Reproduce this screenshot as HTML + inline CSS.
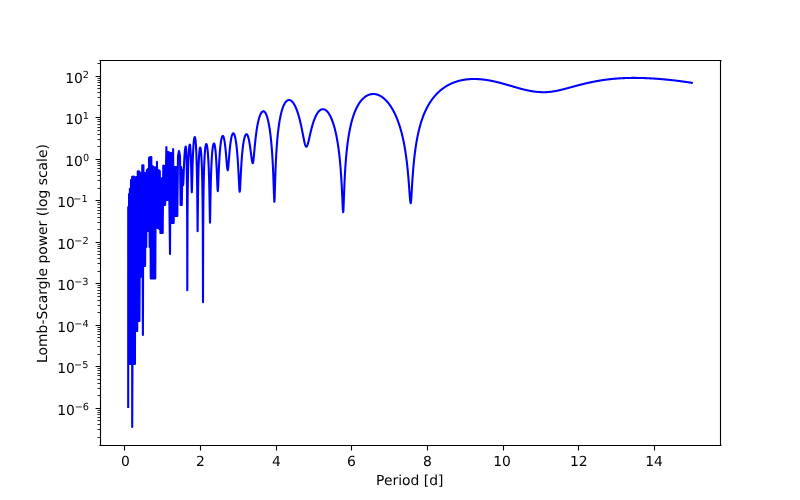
<!DOCTYPE html>
<html><head><meta charset="utf-8"><title>Lomb-Scargle periodogram</title>
<style>html,body{margin:0;padding:0;background:#fff;overflow:hidden}svg{display:block;text-rendering:geometricPrecision;will-change:transform}</style>
</head><body>
<svg width="800" height="500" viewBox="0 0 800 500">
<rect width="800" height="500" fill="#fff"/>
<path d="M128.18 407.00 L128.22 207.00 L128.48 362.00 L129.05 194.00 L129.31 364.00 L129.87 188.82 L130.44 364.00 L131.00 180.13 L131.57 364.00 L132.13 176.90 L132.20 427.00 L133.26 176.44 L133.82 364.00 L134.39 176.73 L134.95 364.00 L135.52 177.48 L136.08 331.00 L136.64 177.16 L137.21 331.00 L137.77 171.31 L138.34 321.00 L138.90 171.20 L139.47 321.00 L140.03 172.58 L140.59 277.00 L141.16 173.00 L141.72 266.00 L142.29 165.20 L142.90 335.00 L143.42 165.20 L143.98 266.00 L144.54 173.00 L145.11 266.00 L145.67 173.00 L146.24 247.00 L146.80 170.00 L147.36 231.00 L147.93 168.94 L148.49 231.00 L149.06 157.68 L149.62 247.00 L150.19 157.00 L150.75 278.50 L151.31 157.00 L151.88 278.50 L152.44 166.22 L153.01 278.50 L153.57 166.79 L154.14 278.50 L154.70 167.47 L155.26 278.50 L155.83 167.61 L156.39 221.00 L156.96 161.80 L157.52 228.00 L158.60 170.00 L159.20 229.00 L159.80 171.00 L160.40 233.00 L161.00 180.50 L161.50 233.00 L162.10 178.00 L162.70 233.00 L163.30 165.60 L163.90 205.00 L164.50 166.00 L165.10 205.00 L165.70 180.00 L166.40 147.00 L167.00 200.00 L167.60 152.00 L168.20 200.00 L168.80 152.00 L169.40 205.00 L170.00 254.00 L170.60 153.00 L171.20 223.00 L171.80 153.00 L172.40 223.00 L173.10 149.00 L173.70 223.00 L174.30 167.00 L174.90 216.00 L175.50 167.00 L176.10 216.00 L176.70 167.00 L177.30 216.00 L178.00 156.00 L179.00 151.00 L180.00 156.00 L180.60 205.00 L181.20 167.00 L181.80 205.00 L182.40 170.00 L183.10 185.20 L183.30 183.31 L183.50 178.71 L183.70 173.21 L183.90 167.88 L184.10 163.15 L184.30 159.10 L184.50 155.72 L184.70 152.95 L184.90 150.73 L185.10 149.01 L185.30 147.76 L185.50 146.95 L185.70 146.55 L185.80 146.50 L186.00 147.33 L186.20 149.88 L186.40 154.38 L186.60 161.36 L186.80 171.99 L187.00 189.44 L187.20 228.13 L187.30 290.20 L187.50 217.75 L187.70 193.43 L187.90 179.48 L188.10 169.94 L188.30 162.92 L188.50 157.58 L188.70 153.45 L188.90 150.28 L189.10 147.90 L189.30 146.20 L189.50 145.10 L189.70 144.57 L189.80 144.50 L190.00 144.94 L190.20 146.26 L190.40 148.50 L190.60 151.75 L190.80 156.13 L191.00 161.85 L191.20 169.13 L191.40 178.04 L191.60 187.42 L191.80 192.20 L192.00 188.30 L192.20 180.17 L192.40 171.92 L192.60 164.77 L192.80 158.83 L193.00 153.92 L193.20 149.87 L193.40 146.53 L193.60 143.81 L193.80 141.62 L194.00 139.90 L194.20 138.60 L194.40 137.70 L194.60 137.17 L194.80 137.00 L195.00 137.24 L195.20 137.97 L195.40 139.20 L195.60 140.96 L195.80 143.28 L196.00 146.25 L196.20 149.95 L196.40 154.55 L196.60 160.30 L196.80 167.60 L197.00 177.17 L197.20 190.47 L197.40 210.47 L197.60 231.20 L197.80 214.01 L198.00 195.50 L198.20 182.85 L198.40 173.74 L198.60 166.87 L198.80 161.55 L199.00 157.38 L199.20 154.13 L199.40 151.62 L199.60 149.77 L199.80 148.49 L200.00 147.74 L200.20 147.50 L200.40 147.74 L200.60 148.47 L200.80 149.71 L201.00 151.46 L201.20 153.80 L201.40 156.78 L201.60 160.51 L201.80 165.16 L202.00 170.99 L202.20 178.46 L202.40 188.40 L202.60 202.70 L202.80 227.35 L203.00 302.20 L203.00 302.20 L203.20 227.16 L203.40 202.65 L203.60 188.46 L203.80 178.60 L204.00 171.17 L204.20 165.33 L204.40 160.62 L204.60 156.77 L204.80 153.60 L205.00 151.00 L205.20 148.89 L205.40 147.21 L205.60 145.91 L205.80 144.96 L206.00 144.34 L206.20 144.04 L206.30 144.00 L206.50 144.14 L206.70 144.56 L206.90 145.26 L207.10 146.24 L207.30 147.53 L207.50 149.13 L207.70 151.08 L207.90 153.39 L208.10 156.13 L208.30 159.34 L208.50 163.12 L208.70 167.57 L208.90 172.87 L209.10 179.25 L209.30 187.07 L209.50 196.83 L209.70 208.84 L209.90 220.52 L210.00 222.70 L210.20 214.95 L210.40 202.17 L210.60 191.32 L210.80 182.71 L211.00 175.80 L211.20 170.13 L211.40 165.41 L211.60 161.42 L211.80 158.04 L212.00 155.15 L212.20 152.69 L212.40 150.59 L212.60 148.82 L212.80 147.34 L213.00 146.12 L213.20 145.16 L213.40 144.42 L213.60 143.91 L213.80 143.60 L214.00 143.50 L214.20 143.62 L214.40 143.99 L214.60 144.61 L214.80 145.49 L215.00 146.62 L215.20 148.02 L215.40 149.70 L215.60 151.68 L215.80 153.99 L216.00 156.65 L216.20 159.69 L216.40 163.15 L216.60 167.06 L216.80 171.43 L217.00 176.21 L217.20 181.24 L217.40 186.06 L217.60 189.77 L217.80 191.20 L217.80 191.20 L218.00 189.67 L218.20 185.76 L218.40 180.77 L218.60 175.62 L218.80 170.76 L219.00 166.32 L219.20 162.33 L219.40 158.77 L219.60 155.60 L219.80 152.78 L220.00 150.27 L220.20 148.03 L220.40 146.05 L220.60 144.29 L220.80 142.73 L221.00 141.37 L221.20 140.18 L221.40 139.16 L221.60 138.30 L221.80 137.58 L222.00 137.00 L222.20 136.56 L222.40 136.25 L222.60 136.06 L222.80 136.00 L223.00 136.07 L223.20 136.28 L223.40 136.62 L223.60 137.10 L223.80 137.72 L224.00 138.47 L224.20 139.37 L224.40 140.41 L224.60 141.60 L224.80 142.93 L225.00 144.42 L225.20 146.06 L225.40 147.85 L225.60 149.80 L225.80 151.90 L226.00 154.14 L226.20 156.49 L226.40 158.94 L226.60 161.41 L226.80 163.82 L227.00 166.06 L227.20 167.96 L227.40 169.36 L227.60 170.10 L227.70 170.20 L227.90 169.78 L228.10 168.59 L228.30 166.80 L228.50 164.59 L228.70 162.16 L228.90 159.64 L229.10 157.14 L229.30 154.71 L229.50 152.40 L229.70 150.23 L229.90 148.21 L230.10 146.34 L230.30 144.62 L230.50 143.04 L230.70 141.60 L230.90 140.29 L231.10 139.11 L231.30 138.05 L231.50 137.11 L231.70 136.29 L231.90 135.57 L232.10 134.95 L232.30 134.44 L232.50 134.03 L232.70 133.71 L232.90 133.48 L233.10 133.34 L233.30 133.30 L233.30 133.30 L233.50 133.35 L233.70 133.49 L233.90 133.72 L234.10 134.04 L234.30 134.46 L234.50 134.97 L234.70 135.58 L234.90 136.28 L235.10 137.09 L235.30 137.99 L235.50 139.01 L235.70 140.13 L235.90 141.37 L236.10 142.74 L236.30 144.23 L236.50 145.86 L236.70 147.64 L236.90 149.58 L237.10 151.69 L237.30 153.98 L237.50 156.48 L237.70 159.20 L237.90 162.15 L238.10 165.36 L238.30 168.84 L238.50 172.58 L238.70 176.55 L238.90 180.65 L239.10 184.68 L239.30 188.24 L239.50 190.77 L239.70 191.70 L239.90 190.73 L240.10 188.10 L240.30 184.47 L240.50 180.43 L240.70 176.35 L240.90 172.44 L241.10 168.78 L241.30 165.40 L241.50 162.30 L241.70 159.45 L241.90 156.85 L242.10 154.46 L242.30 152.28 L242.50 150.28 L242.70 148.45 L242.90 146.77 L243.10 145.23 L243.30 143.83 L243.50 142.54 L243.70 141.37 L243.90 140.31 L244.10 139.35 L244.30 138.48 L244.50 137.70 L244.70 137.01 L244.90 136.40 L245.10 135.87 L245.30 135.42 L245.50 135.04 L245.70 134.74 L245.90 134.50 L246.10 134.33 L246.30 134.23 L246.50 134.20 L246.50 134.20 L246.70 134.24 L246.90 134.36 L247.10 134.55 L247.30 134.83 L247.50 135.18 L247.70 135.61 L247.90 136.12 L248.10 136.70 L248.30 137.36 L248.50 138.10 L248.70 138.92 L248.90 139.82 L249.10 140.80 L249.30 141.85 L249.50 142.99 L249.70 144.20 L249.90 145.48 L250.10 146.83 L250.30 148.25 L250.50 149.73 L250.70 151.26 L250.90 152.82 L251.10 154.39 L251.30 155.94 L251.50 157.46 L251.70 158.89 L251.90 160.19 L252.10 161.31 L252.30 162.21 L252.50 162.84 L252.70 163.16 L252.80 163.20 L253.00 162.90 L253.20 162.02 L253.40 160.66 L253.60 158.93 L253.80 156.94 L254.00 154.80 L254.20 152.58 L254.40 150.35 L254.60 148.15 L254.80 146.01 L255.00 143.94 L255.20 141.95 L255.40 140.05 L255.60 138.24 L255.80 136.51 L256.00 134.87 L256.20 133.32 L256.40 131.84 L256.60 130.45 L256.80 129.12 L257.00 127.86 L257.20 126.67 L257.40 125.54 L257.60 124.48 L257.80 123.46 L258.00 122.51 L258.20 121.60 L258.40 120.75 L258.60 119.94 L258.80 119.18 L259.00 118.46 L259.20 117.78 L259.40 117.14 L259.60 116.55 L259.80 115.99 L260.00 115.46 L260.20 114.98 L260.40 114.52 L260.60 114.10 L260.80 113.72 L261.00 113.36 L261.20 113.03 L261.40 112.74 L261.60 112.47 L261.80 112.23 L262.00 112.02 L262.20 111.84 L262.40 111.69 L262.60 111.56 L262.80 111.45 L263.00 111.38 L263.20 111.33 L263.40 111.30 L263.50 111.30 L263.70 111.32 L263.90 111.37 L264.10 111.45 L264.30 111.57 L264.50 111.73 L264.70 111.92 L264.90 112.14 L265.10 112.39 L265.30 112.68 L265.50 113.01 L265.70 113.37 L265.90 113.76 L266.10 114.19 L266.30 114.66 L266.50 115.16 L266.70 115.70 L266.90 116.28 L267.10 116.90 L267.30 117.57 L267.50 118.27 L267.70 119.01 L267.90 119.80 L268.10 120.64 L268.30 121.52 L268.50 122.46 L268.70 123.45 L268.90 124.49 L269.10 125.59 L269.30 126.75 L269.50 127.98 L269.70 129.27 L269.90 130.64 L270.10 132.09 L270.30 133.62 L270.50 135.24 L270.70 136.96 L270.90 138.79 L271.10 140.74 L271.30 142.81 L271.50 145.03 L271.70 147.41 L271.90 149.98 L272.10 152.74 L272.30 155.74 L272.50 159.00 L272.70 162.56 L272.90 166.48 L273.10 170.80 L273.30 175.58 L273.50 180.84 L273.70 186.54 L273.90 192.43 L274.10 197.80 L274.30 201.22 L274.40 201.70 L274.60 199.08 L274.80 192.97 L275.00 185.94 L275.20 179.25 L275.40 173.24 L275.60 167.91 L275.80 163.18 L276.00 158.96 L276.20 155.17 L276.40 151.73 L276.60 148.60 L276.80 145.73 L277.00 143.09 L277.20 140.65 L277.40 138.37 L277.60 136.25 L277.80 134.27 L278.00 132.41 L278.20 130.66 L278.40 129.01 L278.60 127.46 L278.80 125.99 L279.00 124.59 L279.20 123.27 L279.40 122.01 L279.60 120.82 L279.80 119.68 L280.00 118.59 L280.20 117.56 L280.40 116.58 L280.60 115.64 L280.80 114.74 L281.00 113.88 L281.20 113.06 L281.40 112.28 L281.60 111.53 L281.80 110.82 L282.00 110.13 L282.20 109.48 L282.40 108.86 L282.60 108.26 L282.80 107.69 L283.00 107.15 L283.20 106.63 L283.40 106.14 L283.60 105.67 L283.80 105.22 L284.00 104.80 L284.20 104.39 L284.40 104.01 L284.60 103.65 L284.80 103.31 L285.00 102.98 L285.20 102.68 L285.40 102.39 L285.60 102.12 L285.80 101.87 L286.00 101.64 L286.20 101.42 L286.40 101.22 L286.60 101.03 L286.80 100.87 L287.00 100.71 L287.20 100.57 L287.40 100.45 L287.60 100.35 L287.80 100.25 L288.00 100.18 L288.20 100.11 L288.40 100.06 L288.60 100.03 L288.80 100.01 L289.00 100.00 L289.00 100.00 L289.20 100.01 L289.40 100.03 L289.60 100.06 L289.80 100.11 L290.00 100.17 L290.20 100.24 L290.40 100.32 L290.60 100.42 L290.80 100.53 L291.00 100.66 L291.20 100.80 L291.40 100.95 L291.60 101.11 L291.80 101.29 L292.00 101.47 L292.20 101.68 L292.40 101.89 L292.60 102.12 L292.80 102.36 L293.00 102.61 L293.20 102.88 L293.40 103.16 L293.60 103.45 L293.80 103.76 L294.00 104.08 L294.20 104.41 L294.40 104.76 L294.60 105.12 L294.80 105.50 L295.00 105.88 L295.20 106.29 L295.40 106.71 L295.60 107.14 L295.80 107.58 L296.00 108.05 L296.20 108.52 L296.40 109.01 L296.60 109.52 L296.80 110.04 L297.00 110.58 L297.20 111.14 L297.40 111.71 L297.60 112.30 L297.80 112.90 L298.00 113.53 L298.20 114.16 L298.40 114.82 L298.60 115.50 L298.80 116.19 L299.00 116.90 L299.20 117.63 L299.40 118.38 L299.60 119.15 L299.80 119.94 L300.00 120.74 L300.20 121.57 L300.40 122.41 L300.60 123.28 L300.80 124.16 L301.00 125.07 L301.20 125.99 L301.40 126.93 L301.60 127.89 L301.80 128.86 L302.00 129.85 L302.20 130.85 L302.40 131.87 L302.60 132.89 L302.80 133.93 L303.00 134.96 L303.20 136.00 L303.40 137.03 L303.60 138.06 L303.80 139.06 L304.00 140.04 L304.20 141.00 L304.40 141.91 L304.60 142.77 L304.80 143.57 L305.00 144.30 L305.20 144.95 L305.40 145.51 L305.60 145.97 L305.80 146.33 L306.00 146.56 L306.20 146.68 L306.30 146.70 L306.50 146.65 L306.70 146.49 L306.90 146.23 L307.10 145.88 L307.30 145.43 L307.50 144.91 L307.70 144.31 L307.90 143.65 L308.10 142.94 L308.30 142.18 L308.50 141.38 L308.70 140.55 L308.90 139.70 L309.10 138.83 L309.30 137.96 L309.50 137.07 L309.70 136.19 L309.90 135.31 L310.10 134.43 L310.30 133.56 L310.50 132.71 L310.70 131.86 L310.90 131.03 L311.10 130.21 L311.30 129.41 L311.50 128.63 L311.70 127.86 L311.90 127.11 L312.10 126.38 L312.30 125.67 L312.50 124.97 L312.70 124.30 L312.90 123.64 L313.10 123.00 L313.30 122.38 L313.50 121.77 L313.70 121.19 L313.90 120.62 L314.10 120.06 L314.30 119.53 L314.50 119.01 L314.70 118.51 L314.90 118.02 L315.10 117.55 L315.30 117.09 L315.50 116.65 L315.70 116.23 L315.90 115.82 L316.10 115.42 L316.30 115.04 L316.50 114.67 L316.70 114.32 L316.90 113.98 L317.10 113.65 L317.30 113.34 L317.50 113.04 L317.70 112.75 L317.90 112.48 L318.10 112.21 L318.30 111.96 L318.50 111.72 L318.70 111.50 L318.90 111.28 L319.10 111.08 L319.30 110.88 L319.50 110.70 L319.70 110.53 L319.90 110.37 L320.10 110.22 L320.30 110.08 L320.50 109.95 L320.70 109.84 L320.90 109.73 L321.10 109.63 L321.30 109.54 L321.50 109.47 L321.70 109.40 L321.90 109.34 L322.10 109.30 L322.30 109.26 L322.50 109.23 L322.70 109.21 L322.90 109.20 L323.00 109.20 L323.20 109.21 L323.40 109.22 L323.60 109.25 L323.80 109.28 L324.00 109.33 L324.20 109.39 L324.40 109.46 L324.60 109.53 L324.80 109.62 L325.00 109.72 L325.20 109.83 L325.40 109.95 L325.60 110.08 L325.80 110.21 L326.00 110.36 L326.20 110.52 L326.40 110.69 L326.60 110.87 L326.80 111.06 L327.00 111.27 L327.20 111.48 L327.40 111.70 L327.60 111.93 L327.80 112.18 L328.00 112.43 L328.20 112.70 L328.40 112.97 L328.60 113.26 L328.80 113.56 L329.00 113.87 L329.20 114.19 L329.40 114.52 L329.60 114.87 L329.80 115.23 L330.00 115.59 L330.20 115.98 L330.40 116.37 L330.60 116.78 L330.80 117.20 L331.00 117.63 L331.20 118.08 L331.40 118.54 L331.60 119.01 L331.80 119.50 L332.00 120.00 L332.20 120.52 L332.40 121.05 L332.60 121.60 L332.80 122.17 L333.00 122.75 L333.20 123.35 L333.40 123.97 L333.60 124.60 L333.80 125.25 L334.00 125.93 L334.20 126.62 L334.40 127.33 L334.60 128.07 L334.80 128.83 L335.00 129.61 L335.20 130.41 L335.40 131.24 L335.60 132.10 L335.80 132.98 L336.00 133.89 L336.20 134.83 L336.40 135.80 L336.60 136.81 L336.80 137.85 L337.00 138.93 L337.20 140.04 L337.40 141.20 L337.60 142.40 L337.80 143.64 L338.00 144.94 L338.20 146.28 L338.40 147.69 L338.60 149.15 L338.80 150.68 L339.00 152.28 L339.20 153.95 L339.40 155.71 L339.60 157.56 L339.80 159.50 L340.00 161.55 L340.20 163.73 L340.40 166.03 L340.60 168.48 L340.80 171.09 L341.00 173.89 L341.20 176.88 L341.40 180.10 L341.60 183.57 L341.80 187.30 L342.00 191.30 L342.20 195.56 L342.40 199.98 L342.60 204.36 L342.80 208.30 L343.00 211.14 L343.20 212.20 L343.40 210.51 L343.60 206.22 L343.80 200.79 L344.00 195.21 L344.20 189.92 L344.40 185.06 L344.60 180.63 L344.80 176.61 L345.00 172.93 L345.20 169.57 L345.40 166.48 L345.60 163.62 L345.80 160.97 L346.00 158.49 L346.20 156.18 L346.40 154.00 L346.60 151.96 L346.80 150.02 L347.00 148.19 L347.20 146.46 L347.40 144.81 L347.60 143.23 L347.80 141.73 L348.00 140.29 L348.20 138.92 L348.40 137.60 L348.60 136.33 L348.80 135.12 L349.00 133.94 L349.20 132.81 L349.40 131.73 L349.60 130.67 L349.80 129.66 L350.00 128.68 L350.20 127.73 L350.40 126.81 L350.60 125.91 L350.80 125.05 L351.00 124.21 L351.20 123.40 L351.40 122.61 L351.60 121.84 L351.80 121.09 L352.00 120.36 L352.20 119.66 L352.40 118.97 L352.60 118.30 L352.80 117.65 L353.00 117.01 L353.20 116.40 L353.40 115.79 L353.60 115.20 L353.80 114.63 L354.00 114.07 L354.20 113.52 L354.40 112.99 L354.60 112.47 L354.80 111.96 L355.00 111.47 L355.20 110.98 L355.40 110.51 L355.60 110.04 L355.80 109.59 L356.00 109.15 L356.20 108.72 L356.40 108.30 L356.60 107.89 L356.80 107.48 L357.00 107.09 L357.20 106.70 L357.40 106.33 L357.60 105.96 L357.80 105.60 L358.00 105.25 L358.20 104.90 L358.40 104.57 L358.60 104.24 L358.80 103.92 L359.00 103.60 L359.20 103.29 L359.40 102.99 L359.60 102.70 L359.80 102.41 L360.00 102.13 L360.20 101.86 L360.40 101.59 L360.60 101.33 L360.80 101.07 L361.00 100.82 L361.20 100.58 L361.40 100.34 L361.60 100.10 L361.80 99.88 L362.00 99.65 L362.20 99.44 L362.40 99.23 L362.60 99.02 L362.80 98.82 L363.00 98.62 L363.20 98.43 L363.40 98.24 L363.60 98.06 L363.80 97.89 L364.00 97.71 L364.20 97.55 L364.40 97.38 L364.60 97.22 L364.80 97.07 L365.00 96.92 L365.20 96.77 L365.40 96.63 L365.60 96.49 L365.80 96.36 L366.00 96.23 L366.20 96.11 L366.40 95.99 L366.60 95.87 L366.80 95.76 L367.00 95.65 L367.20 95.54 L367.40 95.44 L367.60 95.34 L367.80 95.25 L368.00 95.16 L368.20 95.07 L368.40 94.99 L368.60 94.91 L368.80 94.83 L369.00 94.76 L369.20 94.69 L369.40 94.62 L369.60 94.56 L369.80 94.50 L370.00 94.45 L370.20 94.40 L370.40 94.35 L370.60 94.30 L370.80 94.26 L371.00 94.22 L371.20 94.19 L371.40 94.15 L371.60 94.12 L371.80 94.10 L372.00 94.07 L372.20 94.05 L372.40 94.04 L372.60 94.02 L372.80 94.01 L373.00 94.01 L373.20 94.00 L373.40 94.00 L373.60 94.00 L373.80 94.01 L374.00 94.02 L374.20 94.03 L374.40 94.04 L374.60 94.06 L374.80 94.08 L375.00 94.11 L375.20 94.13 L375.40 94.17 L375.60 94.20 L375.80 94.24 L376.00 94.28 L376.20 94.32 L376.40 94.37 L376.60 94.42 L376.80 94.48 L377.00 94.53 L377.20 94.59 L377.40 94.66 L377.60 94.72 L377.80 94.79 L378.00 94.87 L378.20 94.94 L378.40 95.02 L378.60 95.10 L378.80 95.19 L379.00 95.28 L379.20 95.37 L379.40 95.47 L379.60 95.57 L379.80 95.67 L380.00 95.77 L380.20 95.88 L380.40 95.99 L380.60 96.10 L380.80 96.22 L381.00 96.34 L381.20 96.47 L381.40 96.59 L381.60 96.72 L381.80 96.86 L382.00 96.99 L382.20 97.13 L382.40 97.28 L382.60 97.42 L382.80 97.57 L383.00 97.73 L383.20 97.88 L383.40 98.04 L383.60 98.21 L383.80 98.37 L384.00 98.54 L384.20 98.72 L384.40 98.89 L384.60 99.08 L384.80 99.26 L385.00 99.45 L385.20 99.64 L385.40 99.83 L385.60 100.03 L385.80 100.23 L386.00 100.44 L386.20 100.64 L386.40 100.86 L386.60 101.07 L386.80 101.29 L387.00 101.52 L387.20 101.74 L387.40 101.97 L387.60 102.21 L387.80 102.45 L388.00 102.69 L388.20 102.94 L388.40 103.19 L388.60 103.44 L388.80 103.70 L389.00 103.96 L389.20 104.23 L389.40 104.50 L389.60 104.78 L389.80 105.06 L390.00 105.34 L390.20 105.63 L390.40 105.93 L390.60 106.22 L390.80 106.53 L391.00 106.83 L391.20 107.14 L391.40 107.46 L391.60 107.78 L391.80 108.11 L392.00 108.44 L392.20 108.78 L392.40 109.12 L392.60 109.47 L392.80 109.82 L393.00 110.18 L393.20 110.54 L393.40 110.91 L393.60 111.28 L393.80 111.66 L394.00 112.05 L394.20 112.44 L394.40 112.84 L394.60 113.25 L394.80 113.66 L395.00 114.08 L395.20 114.50 L395.40 114.93 L395.60 115.37 L395.80 115.82 L396.00 116.27 L396.20 116.73 L396.40 117.20 L396.60 117.67 L396.80 118.16 L397.00 118.65 L397.20 119.15 L397.40 119.66 L397.60 120.18 L397.80 120.70 L398.00 121.24 L398.20 121.78 L398.40 122.34 L398.60 122.90 L398.80 123.48 L399.00 124.07 L399.20 124.66 L399.40 125.27 L399.60 125.89 L399.80 126.52 L400.00 127.17 L400.20 127.83 L400.40 128.50 L400.60 129.18 L400.80 129.88 L401.00 130.59 L401.20 131.32 L401.40 132.07 L401.60 132.83 L401.80 133.61 L402.00 134.40 L402.20 135.22 L402.40 136.05 L402.60 136.91 L402.80 137.78 L403.00 138.68 L403.20 139.60 L403.40 140.55 L403.60 141.52 L403.80 142.51 L404.00 143.54 L404.20 144.59 L404.40 145.68 L404.60 146.80 L404.80 147.95 L405.00 149.14 L405.20 150.36 L405.40 151.63 L405.60 152.94 L405.80 154.30 L406.00 155.71 L406.20 157.17 L406.40 158.68 L406.60 160.26 L406.80 161.90 L407.00 163.61 L407.20 165.39 L407.40 167.25 L407.60 169.19 L407.80 171.22 L408.00 173.34 L408.20 175.57 L408.40 177.89 L408.60 180.32 L408.80 182.86 L409.00 185.48 L409.20 188.18 L409.40 190.92 L409.60 193.66 L409.80 196.30 L410.00 198.72 L410.20 200.78 L410.40 202.29 L410.60 203.10 L410.70 203.20 L410.90 202.56 L411.10 200.78 L411.30 198.15 L411.50 195.02 L411.70 191.67 L411.90 188.28 L412.10 184.97 L412.30 181.78 L412.50 178.74 L412.70 175.87 L412.90 173.16 L413.10 170.60 L413.30 168.19 L413.50 165.90 L413.70 163.74 L413.90 161.69 L414.10 159.74 L414.30 157.88 L414.50 156.11 L414.70 154.42 L414.90 152.81 L415.10 151.26 L415.30 149.78 L415.50 148.35 L415.70 146.98 L415.90 145.66 L416.10 144.39 L416.30 143.16 L416.50 141.98 L416.70 140.83 L416.90 139.72 L417.10 138.65 L417.30 137.60 L417.50 136.59 L417.70 135.61 L417.90 134.66 L418.10 133.73 L418.30 132.83 L418.50 131.95 L418.70 131.09 L418.90 130.26 L419.10 129.45 L419.30 128.65 L419.50 127.88 L419.70 127.12 L419.90 126.38 L420.10 125.66 L420.30 124.96 L420.50 124.27 L420.70 123.59 L420.90 122.93 L421.10 122.28 L421.30 121.65 L421.50 121.03 L421.70 120.42 L421.90 119.82 L422.10 119.23 L422.30 118.66 L422.50 118.10 L422.70 117.54 L422.90 117.00 L423.10 116.47 L423.30 115.94 L423.50 115.43 L423.70 114.92 L423.90 114.42 L424.10 113.94 L424.30 113.46 L424.50 112.98 L424.70 112.52 L424.90 112.06 L425.10 111.61 L425.30 111.17 L425.50 110.73 L425.70 110.30 L425.90 109.88 L426.10 109.47 L426.30 109.06 L426.50 108.65 L426.70 108.26 L426.90 107.87 L427.10 107.48 L427.30 107.10 L427.50 106.73 L427.70 106.36 L427.90 105.99 L428.10 105.63 L428.30 105.28 L428.50 104.93 L428.70 104.59 L428.90 104.25 L429.10 103.91 L429.30 103.58 L429.50 103.26 L429.70 102.93 L429.90 102.62 L430.10 102.30 L430.30 102.00 L430.50 101.69 L430.70 101.39 L430.90 101.09 L431.10 100.80 L431.30 100.51 L431.50 100.22 L431.70 99.94 L431.90 99.66 L432.10 99.39 L432.30 99.12 L432.50 98.85 L432.70 98.58 L432.90 98.32 L433.10 98.06 L433.30 97.81 L433.50 97.55 L433.70 97.30 L433.90 97.06 L434.10 96.81 L434.30 96.57 L434.50 96.33 L434.70 96.10 L434.90 95.87 L435.10 95.64 L435.30 95.41 L435.50 95.19 L435.70 94.97 L435.90 94.75 L436.10 94.53 L436.30 94.32 L436.50 94.10 L436.70 93.90 L436.90 93.69 L437.10 93.48 L437.30 93.28 L437.50 93.08 L437.70 92.88 L437.90 92.69 L438.10 92.50 L438.30 92.31 L438.50 92.12 L438.70 91.93 L438.90 91.75 L439.10 91.56 L439.30 91.38 L439.50 91.21 L439.70 91.03 L439.90 90.85 L440.10 90.68 L440.30 90.51 L440.50 90.34 L440.70 90.18 L440.90 90.01 L441.10 89.85 L441.30 89.69 L441.50 89.53 L441.70 89.37 L441.90 89.21 L442.10 89.06 L442.30 88.91 L442.50 88.76 L442.70 88.61 L442.90 88.46 L443.10 88.32 L443.30 88.17 L443.50 88.03 L443.70 87.89 L443.90 87.75 L444.10 87.61 L444.30 87.47 L444.50 87.34 L444.70 87.21 L444.90 87.08 L445.10 86.95 L445.30 86.82 L445.50 86.69 L445.70 86.56 L445.90 86.44 L446.10 86.32 L446.30 86.19 L446.50 86.07 L446.70 85.95 L446.90 85.84 L447.10 85.72 L447.30 85.61 L447.50 85.49 L447.70 85.38 L447.90 85.27 L448.10 85.16 L448.30 85.05 L448.50 84.94 L448.70 84.84 L448.90 84.73 L449.10 84.63 L449.30 84.53 L449.50 84.43 L449.70 84.33 L449.90 84.23 L450.10 84.13 L450.30 84.04 L450.50 83.94 L450.70 83.85 L450.90 83.75 L451.10 83.66 L451.30 83.57 L451.50 83.48 L451.70 83.39 L451.90 83.31 L452.10 83.22 L452.30 83.14 L452.50 83.05 L452.70 82.97 L452.90 82.89 L453.10 82.81 L453.30 82.73 L453.50 82.65 L453.70 82.57 L453.90 82.49 L454.10 82.42 L454.30 82.34 L454.50 82.27 L454.70 82.20 L454.90 82.12 L455.10 82.05 L455.30 81.98 L455.50 81.91 L455.70 81.85 L455.90 81.78 L456.10 81.71 L456.30 81.65 L456.50 81.58 L456.70 81.52 L456.90 81.46 L457.10 81.40 L457.30 81.34 L457.50 81.28 L457.70 81.22 L457.90 81.16 L458.10 81.10 L458.30 81.05 L458.50 80.99 L458.70 80.94 L458.90 80.88 L459.10 80.83 L459.30 80.78 L459.50 80.73 L459.70 80.68 L459.90 80.63 L460.10 80.58 L460.30 80.53 L460.50 80.49 L460.70 80.44 L460.90 80.40 L461.10 80.35 L461.30 80.31 L461.50 80.26 L461.70 80.22 L461.90 80.18 L462.10 80.14 L462.30 80.10 L462.50 80.06 L462.70 80.02 L462.90 79.99 L463.10 79.95 L463.30 79.91 L463.50 79.88 L463.70 79.84 L463.90 79.81 L464.10 79.78 L464.30 79.75 L464.50 79.71 L464.70 79.68 L464.90 79.65 L465.10 79.62 L465.30 79.60 L465.50 79.57 L465.70 79.54 L465.90 79.51 L466.10 79.49 L466.30 79.46 L466.50 79.44 L466.70 79.41 L466.90 79.39 L467.10 79.37 L467.30 79.35 L467.50 79.33 L467.70 79.31 L467.90 79.29 L468.10 79.27 L468.30 79.25 L468.50 79.23 L468.70 79.22 L468.90 79.20 L469.10 79.18 L469.30 79.17 L469.50 79.15 L469.70 79.14 L469.90 79.13 L470.10 79.12 L470.30 79.10 L470.50 79.09 L470.70 79.08 L470.90 79.07 L471.10 79.06 L471.30 79.06 L471.50 79.05 L471.70 79.04 L471.90 79.03 L472.10 79.03 L472.30 79.02 L472.50 79.02 L472.70 79.01 L472.90 79.01 L473.10 79.01 L473.30 79.00 L473.50 79.00 L473.70 79.00 L473.90 79.00 L474.00 79.00 L474.20 79.00 L474.40 79.00 L474.60 79.00 L474.80 79.00 L475.00 79.01 L475.20 79.01 L475.40 79.01 L475.60 79.02 L475.80 79.02 L476.00 79.03 L476.20 79.03 L476.40 79.04 L476.60 79.05 L476.80 79.05 L477.00 79.06 L477.20 79.07 L477.40 79.08 L477.60 79.09 L477.80 79.10 L478.00 79.11 L478.20 79.12 L478.40 79.13 L478.60 79.14 L478.80 79.15 L479.00 79.16 L479.20 79.18 L479.40 79.19 L479.60 79.21 L479.80 79.22 L480.00 79.24 L480.20 79.25 L480.40 79.27 L480.60 79.28 L480.80 79.30 L481.00 79.32 L481.20 79.34 L481.40 79.36 L481.60 79.37 L481.80 79.39 L482.00 79.41 L482.20 79.43 L482.40 79.46 L482.60 79.48 L482.80 79.50 L483.00 79.52 L483.20 79.54 L483.40 79.57 L483.60 79.59 L483.80 79.61 L484.00 79.64 L484.20 79.66 L484.40 79.69 L484.60 79.71 L484.80 79.74 L485.00 79.77 L485.20 79.79 L485.40 79.82 L485.60 79.85 L485.80 79.88 L486.00 79.91 L486.20 79.94 L486.40 79.97 L486.60 80.00 L486.80 80.03 L487.00 80.06 L487.20 80.09 L487.40 80.12 L487.60 80.15 L487.80 80.18 L488.00 80.22 L488.20 80.25 L488.40 80.28 L488.60 80.32 L488.80 80.35 L489.00 80.39 L489.20 80.42 L489.40 80.46 L489.60 80.49 L489.80 80.53 L490.00 80.57 L490.20 80.60 L490.40 80.64 L490.60 80.68 L490.80 80.72 L491.00 80.76 L491.20 80.80 L491.40 80.83 L491.60 80.87 L491.80 80.91 L492.00 80.95 L492.20 81.00 L492.40 81.04 L492.60 81.08 L492.80 81.12 L493.00 81.16 L493.20 81.20 L493.40 81.25 L493.60 81.29 L493.80 81.33 L494.00 81.38 L494.20 81.42 L494.40 81.46 L494.60 81.51 L494.80 81.55 L495.00 81.60 L495.20 81.64 L495.40 81.69 L495.60 81.74 L495.80 81.78 L496.00 81.83 L496.20 81.88 L496.40 81.92 L496.60 81.97 L496.80 82.02 L497.00 82.07 L497.20 82.12 L497.40 82.17 L497.60 82.21 L497.80 82.26 L498.00 82.31 L498.20 82.36 L498.40 82.41 L498.60 82.46 L498.80 82.51 L499.00 82.56 L499.20 82.62 L499.40 82.67 L499.60 82.72 L499.80 82.77 L500.00 82.82 L500.20 82.87 L500.40 82.93 L500.60 82.98 L500.80 83.03 L501.00 83.08 L501.20 83.14 L501.40 83.19 L501.60 83.25 L501.80 83.30 L502.00 83.35 L502.20 83.41 L502.40 83.46 L502.60 83.52 L502.80 83.57 L503.00 83.63 L503.20 83.68 L503.40 83.74 L503.60 83.79 L503.80 83.85 L504.00 83.90 L504.20 83.96 L504.40 84.02 L504.60 84.07 L504.80 84.13 L505.00 84.19 L505.20 84.24 L505.40 84.30 L505.60 84.36 L505.80 84.41 L506.00 84.47 L506.20 84.53 L506.40 84.59 L506.60 84.64 L506.80 84.70 L507.00 84.76 L507.20 84.82 L507.40 84.87 L507.60 84.93 L507.80 84.99 L508.00 85.05 L508.20 85.11 L508.40 85.17 L508.60 85.22 L508.80 85.28 L509.00 85.34 L509.20 85.40 L509.40 85.46 L509.60 85.52 L509.80 85.58 L510.00 85.63 L510.20 85.69 L510.40 85.75 L510.60 85.81 L510.80 85.87 L511.00 85.93 L511.20 85.99 L511.40 86.05 L511.60 86.11 L511.80 86.17 L512.00 86.22 L512.20 86.28 L512.40 86.34 L512.60 86.40 L512.80 86.46 L513.00 86.52 L513.20 86.58 L513.40 86.64 L513.60 86.69 L513.80 86.75 L514.00 86.81 L514.20 86.87 L514.40 86.93 L514.60 86.99 L514.80 87.05 L515.00 87.10 L515.20 87.16 L515.40 87.22 L515.60 87.28 L515.80 87.34 L516.00 87.39 L516.20 87.45 L516.40 87.51 L516.60 87.57 L516.80 87.62 L517.00 87.68 L517.20 87.74 L517.40 87.79 L517.60 87.85 L517.80 87.91 L518.00 87.96 L518.20 88.02 L518.40 88.08 L518.60 88.13 L518.80 88.19 L519.00 88.24 L519.20 88.30 L519.40 88.35 L519.60 88.41 L519.80 88.46 L520.00 88.52 L520.20 88.57 L520.40 88.63 L520.60 88.68 L520.80 88.73 L521.00 88.79 L521.20 88.84 L521.40 88.89 L521.60 88.94 L521.80 89.00 L522.00 89.05 L522.20 89.10 L522.40 89.15 L522.60 89.20 L522.80 89.25 L523.00 89.31 L523.20 89.36 L523.40 89.41 L523.60 89.46 L523.80 89.50 L524.00 89.55 L524.20 89.60 L524.40 89.65 L524.60 89.70 L524.80 89.75 L525.00 89.79 L525.20 89.84 L525.40 89.89 L525.60 89.94 L525.80 89.98 L526.00 90.03 L526.20 90.07 L526.40 90.12 L526.60 90.16 L526.80 90.21 L527.00 90.25 L527.20 90.29 L527.40 90.34 L527.60 90.38 L527.80 90.42 L528.00 90.46 L528.20 90.50 L528.40 90.55 L528.60 90.59 L528.80 90.63 L529.00 90.67 L529.20 90.71 L529.40 90.74 L529.60 90.78 L529.80 90.82 L530.00 90.86 L530.20 90.90 L530.40 90.93 L530.60 90.97 L530.80 91.00 L531.00 91.04 L531.20 91.07 L531.40 91.11 L531.60 91.14 L531.80 91.17 L532.00 91.21 L532.20 91.24 L532.40 91.27 L532.60 91.30 L532.80 91.33 L533.00 91.36 L533.20 91.39 L533.40 91.42 L533.60 91.45 L533.80 91.48 L534.00 91.51 L534.20 91.54 L534.40 91.56 L534.60 91.59 L534.80 91.61 L535.00 91.64 L535.20 91.66 L535.40 91.69 L535.60 91.71 L535.80 91.73 L536.00 91.76 L536.20 91.78 L536.40 91.80 L536.60 91.82 L536.80 91.84 L537.00 91.86 L537.20 91.88 L537.40 91.90 L537.60 91.92 L537.80 91.93 L538.00 91.95 L538.20 91.97 L538.40 91.98 L538.60 92.00 L538.80 92.01 L539.00 92.03 L539.20 92.04 L539.40 92.05 L539.60 92.07 L539.80 92.08 L540.00 92.09 L540.20 92.10 L540.40 92.11 L540.60 92.12 L540.80 92.13 L541.00 92.14 L541.20 92.15 L541.40 92.15 L541.60 92.16 L541.80 92.17 L542.00 92.17 L542.20 92.18 L542.40 92.18 L542.60 92.19 L542.80 92.19 L543.00 92.19 L543.20 92.20 L543.40 92.20 L543.60 92.20 L543.80 92.20 L544.00 92.20 L544.20 92.20 L544.40 92.20 L544.60 92.20 L544.80 92.19 L545.00 92.19 L545.20 92.19 L545.40 92.18 L545.60 92.18 L545.80 92.17 L546.00 92.16 L546.20 92.15 L546.40 92.14 L546.60 92.13 L546.80 92.12 L547.00 92.11 L547.20 92.10 L547.40 92.09 L547.60 92.08 L547.80 92.06 L548.00 92.05 L548.20 92.03 L548.40 92.02 L548.60 92.00 L548.80 91.98 L549.00 91.96 L549.20 91.94 L549.40 91.92 L549.60 91.90 L549.80 91.88 L550.00 91.86 L550.20 91.84 L550.40 91.82 L550.60 91.79 L550.80 91.77 L551.00 91.74 L551.20 91.72 L551.40 91.69 L551.60 91.67 L551.80 91.64 L552.00 91.61 L552.20 91.58 L552.40 91.55 L552.60 91.52 L552.80 91.49 L553.00 91.46 L553.20 91.43 L553.40 91.40 L553.60 91.37 L553.80 91.33 L554.00 91.30 L554.20 91.27 L554.40 91.23 L554.60 91.20 L554.80 91.16 L555.00 91.13 L555.20 91.09 L555.40 91.05 L555.60 91.01 L555.80 90.98 L556.00 90.94 L556.20 90.90 L556.40 90.86 L556.60 90.82 L556.80 90.78 L557.00 90.74 L557.20 90.70 L557.40 90.66 L557.60 90.61 L557.80 90.57 L558.00 90.53 L558.20 90.49 L558.40 90.44 L558.60 90.40 L558.80 90.35 L559.00 90.31 L559.20 90.26 L559.40 90.22 L559.60 90.17 L559.80 90.13 L560.00 90.08 L560.20 90.04 L560.40 89.99 L560.60 89.94 L560.80 89.89 L561.00 89.85 L561.20 89.80 L561.40 89.75 L561.60 89.70 L561.80 89.65 L562.00 89.60 L562.20 89.55 L562.40 89.50 L562.60 89.45 L562.80 89.40 L563.00 89.35 L563.20 89.30 L563.40 89.25 L563.60 89.20 L563.80 89.15 L564.00 89.10 L564.20 89.05 L564.40 89.00 L564.60 88.94 L564.80 88.89 L565.00 88.84 L565.20 88.79 L565.40 88.74 L565.60 88.68 L565.80 88.63 L566.00 88.58 L566.20 88.52 L566.40 88.47 L566.60 88.42 L566.80 88.37 L567.00 88.31 L567.20 88.26 L567.40 88.20 L567.60 88.15 L567.80 88.10 L568.00 88.04 L568.20 87.99 L568.40 87.93 L568.60 87.88 L568.80 87.83 L569.00 87.77 L569.20 87.72 L569.40 87.66 L569.60 87.61 L569.80 87.56 L570.00 87.50 L570.20 87.45 L570.40 87.39 L570.60 87.34 L570.80 87.28 L571.00 87.23 L571.20 87.17 L571.40 87.12 L571.60 87.06 L571.80 87.01 L572.00 86.96 L572.20 86.90 L572.40 86.85 L572.60 86.79 L572.80 86.74 L573.00 86.68 L573.20 86.63 L573.40 86.57 L573.60 86.52 L573.80 86.47 L574.00 86.41 L574.20 86.36 L574.40 86.30 L574.60 86.25 L574.80 86.20 L575.00 86.14 L575.20 86.09 L575.40 86.03 L575.60 85.98 L575.80 85.93 L576.00 85.87 L576.20 85.82 L576.40 85.77 L576.60 85.71 L576.80 85.66 L577.00 85.61 L577.20 85.55 L577.40 85.50 L577.60 85.45 L577.80 85.39 L578.00 85.34 L578.20 85.29 L578.40 85.24 L578.60 85.18 L578.80 85.13 L579.00 85.08 L579.20 85.03 L579.40 84.98 L579.60 84.92 L579.80 84.87 L580.00 84.82 L580.20 84.77 L580.40 84.72 L580.60 84.67 L580.80 84.62 L581.00 84.57 L581.20 84.52 L581.40 84.46 L581.60 84.41 L581.80 84.36 L582.00 84.31 L582.20 84.26 L582.40 84.21 L582.60 84.16 L582.80 84.12 L583.00 84.07 L583.20 84.02 L583.40 83.97 L583.60 83.92 L583.80 83.87 L584.00 83.82 L584.20 83.77 L584.40 83.73 L584.60 83.68 L584.80 83.63 L585.00 83.58 L585.20 83.53 L585.40 83.49 L585.60 83.44 L585.80 83.39 L586.00 83.35 L586.20 83.30 L586.40 83.25 L586.60 83.21 L586.80 83.16 L587.00 83.11 L587.20 83.07 L587.40 83.02 L587.60 82.98 L587.80 82.93 L588.00 82.89 L588.20 82.84 L588.40 82.80 L588.60 82.75 L588.80 82.71 L589.00 82.67 L589.20 82.62 L589.40 82.58 L589.60 82.53 L589.80 82.49 L590.00 82.45 L590.20 82.41 L590.40 82.36 L590.60 82.32 L590.80 82.28 L591.00 82.24 L591.20 82.19 L591.40 82.15 L591.60 82.11 L591.80 82.07 L592.00 82.03 L592.20 81.99 L592.40 81.95 L592.60 81.91 L592.80 81.87 L593.00 81.83 L593.20 81.79 L593.40 81.75 L593.60 81.71 L593.80 81.67 L594.00 81.63 L594.20 81.59 L594.40 81.55 L594.60 81.51 L594.80 81.47 L595.00 81.44 L595.20 81.40 L595.40 81.36 L595.60 81.32 L595.80 81.29 L596.00 81.25 L596.20 81.21 L596.40 81.18 L596.60 81.14 L596.80 81.10 L597.00 81.07 L597.20 81.03 L597.40 81.00 L597.60 80.96 L597.80 80.93 L598.00 80.89 L598.20 80.86 L598.40 80.82 L598.60 80.79 L598.80 80.75 L599.00 80.72 L599.20 80.69 L599.40 80.65 L599.60 80.62 L599.80 80.59 L600.00 80.55 L600.20 80.52 L600.40 80.49 L600.60 80.46 L600.80 80.42 L601.00 80.39 L601.20 80.36 L601.40 80.33 L601.60 80.30 L601.80 80.27 L602.00 80.24 L602.20 80.21 L602.40 80.18 L602.60 80.15 L602.80 80.12 L603.00 80.09 L603.20 80.06 L603.40 80.03 L603.60 80.00 L603.80 79.97 L604.00 79.94 L604.20 79.91 L604.40 79.89 L604.60 79.86 L604.80 79.83 L605.00 79.80 L605.20 79.78 L605.40 79.75 L605.60 79.72 L605.80 79.69 L606.00 79.67 L606.20 79.64 L606.40 79.62 L606.60 79.59 L606.80 79.56 L607.00 79.54 L607.20 79.51 L607.40 79.49 L607.60 79.46 L607.80 79.44 L608.00 79.41 L608.20 79.39 L608.40 79.37 L608.60 79.34 L608.80 79.32 L609.00 79.30 L609.20 79.27 L609.40 79.25 L609.60 79.23 L609.80 79.20 L610.00 79.18 L610.20 79.16 L610.40 79.14 L610.60 79.12 L610.80 79.10 L611.00 79.07 L611.20 79.05 L611.40 79.03 L611.60 79.01 L611.80 78.99 L612.00 78.97 L612.20 78.95 L612.40 78.93 L612.60 78.91 L612.80 78.89 L613.00 78.87 L613.20 78.85 L613.40 78.83 L613.60 78.82 L613.80 78.80 L614.00 78.78 L614.20 78.76 L614.40 78.74 L614.60 78.72 L614.80 78.71 L615.00 78.69 L615.20 78.67 L615.40 78.66 L615.60 78.64 L615.80 78.62 L616.00 78.61 L616.20 78.59 L616.40 78.57 L616.60 78.56 L616.80 78.54 L617.00 78.53 L617.20 78.51 L617.40 78.50 L617.60 78.48 L617.80 78.47 L618.00 78.45 L618.20 78.44 L618.40 78.43 L618.60 78.41 L618.80 78.40 L619.00 78.39 L619.20 78.37 L619.40 78.36 L619.60 78.35 L619.80 78.33 L620.00 78.32 L620.20 78.31 L620.40 78.30 L620.60 78.29 L620.80 78.27 L621.00 78.26 L621.20 78.25 L621.40 78.24 L621.60 78.23 L621.80 78.22 L622.00 78.21 L622.20 78.20 L622.40 78.19 L622.60 78.18 L622.80 78.17 L623.00 78.16 L623.20 78.15 L623.40 78.14 L623.60 78.13 L623.80 78.12 L624.00 78.11 L624.20 78.10 L624.40 78.09 L624.60 78.09 L624.80 78.08 L625.00 78.07 L625.20 78.06 L625.40 78.06 L625.60 78.05 L625.80 78.04 L626.00 78.03 L626.20 78.03 L626.40 78.02 L626.60 78.01 L626.80 78.01 L627.00 78.00 L627.20 78.00 L627.40 77.99 L627.60 77.99 L627.80 77.98 L628.00 77.98 L628.20 77.97 L628.40 77.97 L628.60 77.96 L628.80 77.96 L629.00 77.95 L629.20 77.95 L629.40 77.94 L629.60 77.94 L629.80 77.94 L630.00 77.93 L630.20 77.93 L630.40 77.93 L630.60 77.92 L630.80 77.92 L631.00 77.92 L631.20 77.92 L631.40 77.91 L631.60 77.91 L631.80 77.91 L632.00 77.91 L632.20 77.91 L632.40 77.91 L632.60 77.90 L632.80 77.90 L633.00 77.90 L633.20 77.90 L633.40 77.90 L633.60 77.90 L633.80 77.90 L634.00 77.90 L634.50 77.90 L635.00 77.90 L635.50 77.90 L636.00 77.91 L636.50 77.91 L637.00 77.92 L637.50 77.92 L638.00 77.93 L638.50 77.94 L639.00 77.94 L639.50 77.95 L640.00 77.96 L640.50 77.97 L641.00 77.99 L641.50 78.00 L642.00 78.01 L642.50 78.03 L643.00 78.04 L643.50 78.06 L644.00 78.07 L644.50 78.09 L645.00 78.11 L645.50 78.13 L646.00 78.15 L646.50 78.17 L647.00 78.19 L647.50 78.21 L648.00 78.24 L648.50 78.26 L649.00 78.28 L649.50 78.31 L650.00 78.34 L650.50 78.36 L651.00 78.39 L651.50 78.42 L652.00 78.45 L652.50 78.48 L653.00 78.51 L653.50 78.54 L654.00 78.57 L654.50 78.60 L655.00 78.64 L655.50 78.67 L656.00 78.71 L656.50 78.74 L657.00 78.78 L657.50 78.81 L658.00 78.85 L658.50 78.89 L659.00 78.93 L659.50 78.97 L660.00 79.01 L660.50 79.05 L661.00 79.09 L661.50 79.13 L662.00 79.18 L662.50 79.22 L663.00 79.26 L663.50 79.31 L664.00 79.36 L664.50 79.40 L665.00 79.45 L665.50 79.50 L666.00 79.54 L666.50 79.59 L667.00 79.64 L667.50 79.69 L668.00 79.74 L668.50 79.79 L669.00 79.85 L669.50 79.90 L670.00 79.95 L670.50 80.01 L671.00 80.06 L671.50 80.11 L672.00 80.17 L672.50 80.23 L673.00 80.28 L673.50 80.34 L674.00 80.40 L674.50 80.46 L675.00 80.52 L675.50 80.58 L676.00 80.64 L676.50 80.70 L677.00 80.76 L677.50 80.82 L678.00 80.88 L678.50 80.94 L679.00 81.01 L679.50 81.07 L680.00 81.14 L680.50 81.20 L681.00 81.27 L681.50 81.33 L682.00 81.40 L682.50 81.47 L683.00 81.53 L683.50 81.60 L684.00 81.67 L684.50 81.74 L685.00 81.81 L685.50 81.88 L686.00 81.95 L686.50 82.02 L687.00 82.09 L687.50 82.17 L688.00 82.24 L688.50 82.31 L689.00 82.39 L689.50 82.46 L690.00 82.54 L690.50 82.61 L691.00 82.69 L691.50 82.76 L692.00 82.84 L691.82 82.90" fill="none" stroke="#0000ff" stroke-width="2.083" stroke-linejoin="round" stroke-linecap="square"/>
<path d="M100.5 445.5V60.5M720.5 445.5V60.5M100 445.5H721M100 60.5H721" stroke="#000" stroke-width="1.11" fill="none" stroke-linecap="square"/>
<path d="M124.5 445V450.5M200.5 445V450.5M276.5 445V450.5M351.5 445V450.5M427.5 445V450.5M503.5 445V450.5M578.5 445V450.5M654.5 445V450.5" stroke="#000" stroke-width="1.11" fill="none"/>
<path d="M95.6 408.5H100M95.6 366.5H100M95.6 325.5H100M95.6 283.5H100M95.6 242.5H100M95.6 200.5H100M95.6 159.5H100M95.6 117.5H100M95.6 76.5H100" stroke="#000" stroke-width="1.11" fill="none"/>
<path d="M97.45 437.5H100M97.45 429.5H100M97.45 424.5H100M97.45 420.5H100M97.45 417.5H100M97.45 414.5H100M97.45 412.5H100M97.45 410.5H100M97.45 395.5H100M97.45 388.5H100M97.45 383.5H100M97.45 379.5H100M97.45 375.5H100M97.45 373.5H100M97.45 370.5H100M97.45 368.5H100M97.45 354.5H100M97.45 346.5H100M97.45 341.5H100M97.45 337.5H100M97.45 334.5H100M97.45 331.5H100M97.45 329.5H100M97.45 327.5H100M97.45 312.5H100M97.45 305.5H100M97.45 300.5H100M97.45 296.5H100M97.45 293.5H100M97.45 290.5H100M97.45 287.5H100M97.45 285.5H100M97.45 271.5H100M97.45 263.5H100M97.45 258.5H100M97.45 254.5H100M97.45 251.5H100M97.45 248.5H100M97.45 246.5H100M97.45 244.5H100M97.45 229.5H100M97.45 222.5H100M97.45 217.5H100M97.45 213.5H100M97.45 210.5H100M97.45 207.5H100M97.45 204.5H100M97.45 202.5H100M97.45 188.5H100M97.45 180.5H100M97.45 175.5H100M97.45 171.5H100M97.45 168.5H100M97.45 165.5H100M97.45 163.5H100M97.45 161.5H100M97.45 146.5H100M97.45 139.5H100M97.45 134.5H100M97.45 130.5H100M97.45 127.5H100M97.45 124.5H100M97.45 121.5H100M97.45 119.5H100M97.45 105.5H100M97.45 97.5H100M97.45 92.5H100M97.45 88.5H100M97.45 85.5H100M97.45 82.5H100M97.45 80.5H100M97.45 78.5H100M97.45 63.5H100" stroke="#000" stroke-width="0.833" fill="none"/>
<g style="font-family:'DejaVu Sans','Liberation Sans',sans-serif;font-size:13.889px" fill="#000"><text x="125.34" y="465.63" text-anchor="middle">0</text><text x="200.34" y="465.70" text-anchor="middle">2</text><text x="276.32" y="465.69" text-anchor="middle">4</text><text x="351.53" y="465.50" text-anchor="middle">6</text><text x="427.42" y="465.67" text-anchor="middle">8</text><text x="502.10" y="465.55" text-anchor="middle">10</text><text x="578.79" y="465.65" text-anchor="middle">12</text><text x="653.96" y="465.65" text-anchor="middle">14</text><text x="409.72" y="484.67" text-anchor="middle">Period [d]</text><text x="46.73" y="253.54" text-anchor="middle" transform="rotate(-90 46.73 253.54)">Lomb-Scargle power (log scale)</text><text x="57.13" y="414.67">10</text><text x="74.63" y="410.39" font-size="9.722">&#8722;6</text><text x="57.13" y="372.69">10</text><text x="74.07" y="367.53" font-size="9.722">&#8722;5</text><text x="57.13" y="331.69">10</text><text x="74.26" y="327.38" font-size="9.722">&#8722;4</text><text x="57.13" y="289.67">10</text><text x="74.23" y="284.95" font-size="9.722">&#8722;3</text><text x="57.13" y="248.68">10</text><text x="74.28" y="243.51" font-size="9.722">&#8722;2</text><text x="57.13" y="206.69">10</text><text x="73.35" y="201.66" font-size="9.722">&#8722;1</text><text x="65.22" y="165.56">10</text><text x="82.91" y="160.97" font-size="9.722">0</text><text x="65.22" y="123.58">10</text><text x="82.67" y="118.74" font-size="9.722">1</text><text x="65.22" y="82.56">10</text><text x="82.74" y="77.69" font-size="9.722">2</text></g>
</svg>
</body></html>
